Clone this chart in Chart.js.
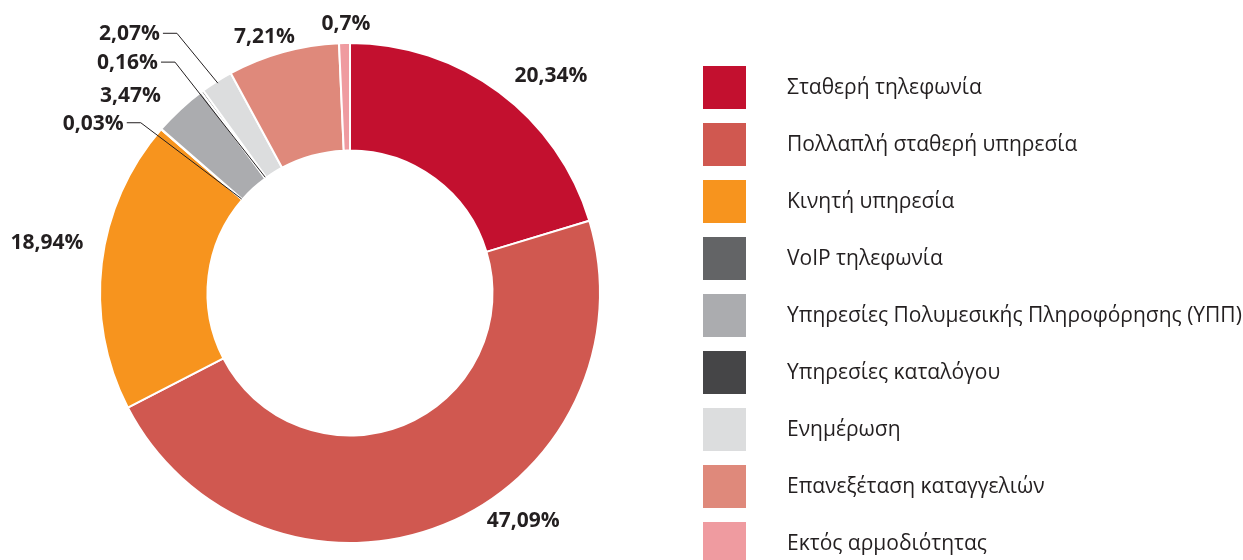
<!DOCTYPE html>
<html>
<head>
<meta charset="utf-8">
<script src="https://cdn.jsdelivr.net/npm/chart.js@4.4.0/dist/chart.umd.min.js"></script>
<style>
  html, body { margin: 0; padding: 0; background: #ffffff; overflow: hidden; }
  #wrap { width: 1243px; height: 560px; }
</style>
</head>
<body>
<div id="wrap"><canvas id="chart-complaints" width="1243" height="560"></canvas></div>
<script>
// Data
const categories = [
  'Σταθερή τηλεφωνία',
  'Πολλαπλή σταθερή υπηρεσία',
  'Κινητή υπηρεσία',
  'VoIP τηλεφωνία',
  'Υπηρεσίες Πολυμεσικής Πληροφόρησης (ΥΠΠ)',
  'Υπηρεσίες καταλόγου',
  'Ενημέρωση',
  'Επανεξέταση καταγγελιών',
  'Εκτός αρμοδιότητας'
];
const shares = [20.34, 47.09, 18.94, 0.03, 3.47, 0.16, 2.07, 7.21, 0.7];
const slice_colors = [
  '#c3102f', '#d05850', '#f7941e', '#636466', '#abacaf',
  '#454547', '#dcddde', '#df897b', '#ef9ba0'
];

// label placement: nudge from a point 25px outside each slice's mid angle
const label_nudges = [[37, 4], [70, -27], [-30, -17], [-49, 11], [-33, 5], [-60, -8], [-74, -26], [-12, 9], [2, 6]];
// leader lines for the small slices: which ring edge they end on
const leader_ends = [null, null, null, 'inner', null, 'inner', 'outer', null, null];

const text_color = '#231f20';

function formatShare(v) {
  return v.toString().replace('.', ',') + '%';
}

// draws the percent labels (and leader lines) outside the ring
const outside_labels = {
  id: 'outsideLabels',
  afterDatasetsDraw(chart) {
    const ctx = chart.ctx;
    const meta = chart.getDatasetMeta(0);
    ctx.save();
    ctx.font = 'bold 21px "Open Sans"';
    ctx.fillStyle = text_color;
    ctx.strokeStyle = text_color;
    ctx.lineWidth = 1;
    ctx.textAlign = 'center';
    ctx.textBaseline = 'middle';
    meta.data.forEach((arc, i) => {
      const p = arc.getProps(['x', 'y', 'startAngle', 'endAngle', 'innerRadius', 'outerRadius'], true);
      const mid = (p.startAngle + p.endAngle) / 2;
      const cx = p.x + Math.cos(mid) * (p.outerRadius + 25) + label_nudges[i][0];
      const cy = p.y + Math.sin(mid) * (p.outerRadius + 25) + label_nudges[i][1];
      const txt = formatShare(shares[i]);
      ctx.fillText(txt, cx, cy);

      if (leader_ends[i]) {
        const w = ctx.measureText(txt).width;
        const r_end = leader_ends[i] === 'inner' ? p.innerRadius + 1 : p.outerRadius - 2;
        const sx = cx + w / 2 + 3;
        const sy = cy - 1;
        ctx.beginPath();
        ctx.moveTo(sx, sy);
        ctx.lineTo(sx + 14, sy);
        ctx.lineTo(p.x + Math.cos(mid) * r_end, p.y + Math.sin(mid) * r_end);
        ctx.stroke();
      }
    });
    ctx.restore();
  }
};

// legend on the right: big square swatches + names
const side_legend = {
  id: 'sideLegend',
  afterDraw(chart) {
    const ctx = chart.ctx;
    ctx.save();
    ctx.font = '21px "Open Sans"';
    ctx.textAlign = 'left';
    ctx.textBaseline = 'middle';
    categories.forEach((name, i) => {
      const top = 66 + i * 57;
      ctx.fillStyle = slice_colors[i];
      ctx.fillRect(703, top, 43, 43);
      ctx.fillStyle = text_color;
      ctx.fillText(name, 787, top + 22);
    });
    ctx.restore();
  }
};

const ctx = document.getElementById('chart-complaints');
const chart = new Chart(ctx, {
  type: 'doughnut',
  plugins: [outside_labels, side_legend],
  data: {
    labels: categories,
    datasets: [{
      data: shares,
      backgroundColor: slice_colors,
      borderColor: '#ffffff',
      borderWidth: 2
    }]
  },
  options: {
    responsive: false,
    animation: false,
    cutout: '57%',
    layout: {
      padding: { left: 99, right: 642, top: 42, bottom: 16 }
    },
    plugins: {
      legend: { display: false },
      tooltip: { enabled: false }
    }
  }
});
</script>
</body>
</html>
